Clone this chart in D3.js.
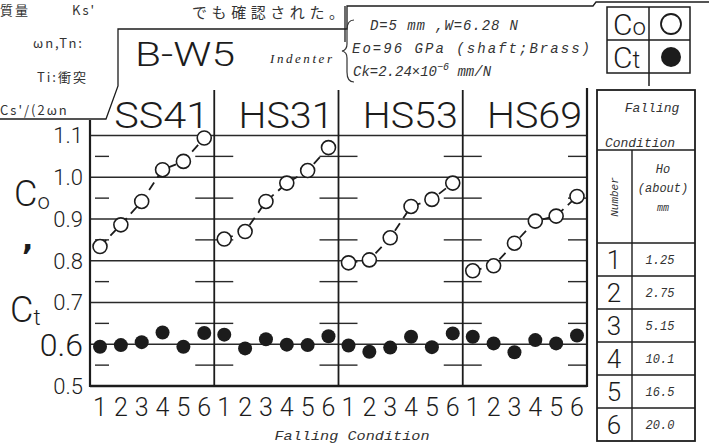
<!DOCTYPE html>
<html>
<head>
<meta charset="utf-8">
<script src="https://cdn.jsdelivr.net/npm/d3@7"></script>
<style>
  body { margin: 0; background: #fff; }
  svg { display: block; }
</style>
</head>
<body>
<div id="chart"></div>
<script>
// Data
const materials = ["SS41", "HS31", "HS53", "HS69"];
const conditions = [1, 2, 3, 4, 5, 6];
const coValues = [
  [0.834, 0.886, 0.942, 1.018, 1.038, 1.094],
  [0.852, 0.870, 0.942, 0.986, 1.016, 1.071],
  [0.795, 0.802, 0.855, 0.930, 0.947, 0.986],
  [0.776, 0.788, 0.842, 0.895, 0.907, 0.954]
];
const ctValues = [
  [0.594, 0.598, 0.605, 0.628, 0.594, 0.627],
  [0.623, 0.590, 0.612, 0.599, 0.598, 0.619],
  [0.597, 0.582, 0.592, 0.618, 0.593, 0.626],
  [0.618, 0.602, 0.581, 0.610, 0.602, 0.621]
];
const yTicks = [0.5, 0.6, 0.7, 0.8, 0.9, 1.0, 1.1];
const yHalfTicks = [0.55, 0.65, 0.75, 0.85, 0.95, 1.05];
const heightsHo = ["1.25", "2.75", "5.15", "10.1", "16.5", "20.0"];
const indenterLines = ["D=5 mm ,W=6.28 N", "Eo=96 GPa (shaft;Brass)", "Ck=2.24×10"];

const width = 709, height = 445;
const ink = "#1c1c1c";
const sans = "Roboto, 'DejaVu Sans', sans-serif";
const mono = "'Liberation Mono', 'DejaVu Sans Mono', monospace";
const jp = "'Noto Sans CJK JP', sans-serif";

const svg = d3.select("#chart").append("svg")
  .attr("width", width).attr("height", height)
  .attr("viewBox", `0 0 ${width} ${height}`);

// Scales
const x0 = 90, x1 = 587;
const panel = d3.scaleBand().domain(materials).range([x0, x1]).padding(0);
const xp = d3.scalePoint().domain(conditions).range([0, panel.bandwidth()]).padding(0.48);
const y = d3.scaleLinear().domain([0.5, 1.1]).range([386, 135.5]);

// Surrounding scanned text (top-left)
const leftText = [
  { t: "質量", x: 0, y: 15 }, { t: "Ks'", x: 72, y: 15 },
  { t: "ωn,Tn:", x: 33, y: 48 },
  { t: "Ti:衝突", x: 37, y: 82 },
  { t: "Cs'/(2ωn", x: 0, y: 115 }
];
svg.selectAll(".scan").data(leftText).enter().append("text")
  .attr("x", d => d.x).attr("y", d => d.y).text(d => d.t)
  .style("font-family", jp).style("font-size", "13px").style("fill", "#333")
  .style("letter-spacing", "2px");
svg.append("text").attr("x", 192).attr("y", 18).text("でも確認された。")
  .attr("textLength", 152).attr("lengthAdjust", "spacing")
  .style("font-family", jp).style("font-size", "15px").style("fill", "#333");

// Box outlines of the header
svg.append("path")
  .attr("d", "M0,119 L106,119 L118,86 L118,29 L347,29 L347,6 L593,6 L596,2 L709,2")
  .style("fill", "none").style("stroke", ink).style("stroke-width", 1.3);
svg.append("path").attr("d", "M345,6 L345,42")
  .style("fill", "none").style("stroke", ink).style("stroke-width", 1.3);

svg.append("text").attr("x", 135).attr("y", 66).text("B-W5")
  .attr("textLength", 100).attr("lengthAdjust", "spacingAndGlyphs")
  .style("font-family", sans).style("font-weight", 300).style("font-size", "34px").style("fill", ink);
svg.append("text").attr("x", 270).attr("y", 63).text("Indenter")
  .attr("textLength", 62).attr("lengthAdjust", "spacing")
  .style("font-family", "'Liberation Serif', serif").style("font-style", "italic")
  .style("font-size", "13px").style("fill", ink);

// Brace and indenter constants
svg.append("path")
  .attr("d", "M354,20 Q347,20 347,30 L347,44 Q347,50 342,51 Q347,52 347,58 L347,72 Q347,82 354,82")
  .style("fill", "none").style("stroke", "#333").style("stroke-width", 1.2);
const indX = [370, 352, 353], indY = [30, 53, 76], indW = [148, 238, null];
indenterLines.forEach((t, i) => {
  const tx = svg.append("text").attr("x", indX[i]).attr("y", indY[i])
    .style("font-family", mono).style("font-style", "italic")
    .style("font-size", "14px").style("fill", "#333");
  if (indW[i]) tx.attr("textLength", indW[i]).attr("lengthAdjust", "spacing");
  tx.append("tspan").text(t);
  if (i === 2) {
    tx.append("tspan").attr("dy", -6).style("font-size", "10px").text("−6");
    tx.append("tspan").attr("dy", 6).text(" mm/N");
  }
});

// Legend box
const lg = svg.append("g");
lg.append("rect").attr("x", 607).attr("y", 7).attr("width", 83).attr("height", 66)
  .style("fill", "none").style("stroke", ink).style("stroke-width", 1.5);
lg.append("line").attr("x1", 649).attr("x2", 649).attr("y1", 7).attr("y2", 86)
  .style("stroke", ink).style("stroke-width", 1.5);
lg.append("line").attr("x1", 607).attr("x2", 690).attr("y1", 40).attr("y2", 40)
  .style("stroke", ink).style("stroke-width", 1.5);
[["C", "o", 24], ["C", "t", 57]].forEach(([a, b, cy]) => {
  const t = lg.append("text").attr("x", 613).attr("y", cy + 11)
    .style("font-family", sans).style("font-weight", 300).style("fill", ink);
  t.append("tspan").style("font-size", "30px").text(a);
  t.append("tspan").style("font-size", "24px").text(b);
});
lg.append("circle").attr("cx", 671).attr("cy", 24).attr("r", 10)
  .style("fill", "#fff").style("stroke", ink).style("stroke-width", 1.8);
lg.append("circle").attr("cx", 671).attr("cy", 57).attr("r", 10).style("fill", ink);

// Gridlines
const plot = svg.append("g");
plot.selectAll(".grid").data(yTicks.slice(1)).enter().append("line")
  .attr("x1", x0).attr("x2", x1).attr("y1", d => y(d)).attr("y2", d => y(d))
  .style("stroke", "#2a2a2a").style("stroke-width", 1.5);

// Half-step ticks on both sides of each panel edge
const edges = materials.map(m => panel(m)).concat([x1]);
edges.forEach((ex, i) => {
  yHalfTicks.forEach(v => {
    if (i > 0) plot.append("line").attr("x1", ex - 19).attr("x2", ex).attr("y1", y(v)).attr("y2", y(v))
      .style("stroke", "#2a2a2a").style("stroke-width", 1.4);
    if (i < edges.length - 1) plot.append("line").attr("x1", ex + (i === 0 ? 5 : 0)).attr("x2", ex + 19)
      .attr("y1", y(v)).attr("y2", y(v)).style("stroke", "#2a2a2a").style("stroke-width", 1.4);
  });
});

// Panel dividers, axes
materials.slice(1).forEach(m => {
  plot.append("line").attr("x1", panel(m)).attr("x2", panel(m)).attr("y1", 90).attr("y2", 386)
    .style("stroke", ink).style("stroke-width", 1.8);
});
plot.append("line").attr("x1", x0).attr("x2", x0).attr("y1", 120).attr("y2", 387)
  .style("stroke", ink).style("stroke-width", 2.2);
plot.append("line").attr("x1", x1).attr("x2", x1).attr("y1", 88).attr("y2", 387)
  .style("stroke", ink).style("stroke-width", 2.2);
plot.append("line").attr("x1", x0).attr("x2", x1).attr("y1", 386).attr("y2", 386)
  .style("stroke", ink).style("stroke-width", 2.4);

// Panel titles
plot.selectAll(".ptitle").data(materials).enter().append("text")
  .attr("x", d => panel(d) + panel.bandwidth() - 5).attr("y", 128)
  .attr("text-anchor", "end").text(d => d)
  .attr("textLength", 95).attr("lengthAdjust", "spacingAndGlyphs")
  .style("font-family", sans).style("font-weight", 300).style("font-size", "36px").style("fill", ink);

// Y tick labels
plot.selectAll(".ylab").data(yTicks).enter().append("text")
  .attr("x", 83).attr("y", d => y(d)).attr("dy", "0.36em")
  .attr("text-anchor", "end").text(d => d.toFixed(1))
  .style("font-family", sans).style("font-weight", 300)
  .style("font-size", d => d === 0.6 ? "32px" : "22px").style("fill", ink);

// Y axis title "Co , Ct"
const yt = [["C", "o", 206, 14], ["C", "t", 322, 10]];
yt.forEach(([a, b, by, bx]) => {
  const t = plot.append("text").attr("x", bx).attr("y", by)
    .style("font-family", sans).style("font-weight", 300).style("fill", ink);
  t.append("tspan").style("font-size", "36px").text(a);
  t.append("tspan").attr("dy", 3).style("font-size", "22px").text(b);
});
plot.append("text").attr("x", 22).attr("y", 250).text(",")
  .style("font-family", "'DejaVu Sans', sans-serif").style("font-weight", "bold")
  .style("font-size", "30px").style("fill", ink);

// X tick labels
materials.forEach(m => {
  plot.selectAll(null).data(conditions).enter().append("text")
    .attr("x", d => panel(m) + xp(d)).attr("y", 416)
    .attr("text-anchor", "middle").text(d => d)
    .style("font-family", sans).style("font-weight", 300).style("font-size", "25px").style("fill", ink);
});
plot.append("text").attr("x", 352).attr("y", 440).attr("text-anchor", "middle")
  .text("Falling  Condition").attr("textLength", 155).attr("lengthAdjust", "spacingAndGlyphs")
  .style("font-family", mono).style("font-style", "italic").style("font-size", "13px").style("fill", "#333");

// Series
materials.forEach((m, mi) => {
  const g = plot.append("g");
  const pts = conditions.map((c, i) => ({ c, co: coValues[mi][i], ct: ctValues[mi][i] }));
  const line = d3.line().x(d => panel(m) + xp(d.c)).y(d => y(d.co));
  g.append("path").datum(pts).attr("d", line)
    .style("fill", "none").style("stroke", ink).style("stroke-width", 1.8)
    .style("stroke-dasharray", "9,6");
  g.selectAll(".co").data(pts).enter().append("circle")
    .attr("cx", d => panel(m) + xp(d.c)).attr("cy", d => y(d.co)).attr("r", 7)
    .style("fill", "#fff").style("stroke", ink).style("stroke-width", 1.6);
  g.selectAll(".ct").data(pts).enter().append("circle")
    .attr("cx", d => panel(m) + xp(d.c)).attr("cy", d => y(d.ct)).attr("r", 7)
    .style("fill", ink);
});

// Falling condition table
const tb = svg.append("g");
const tx0 = 597, tx1 = 695, tcol = 632, ttop = 90, thead = 150, trow0 = 243, rowH = 33;
const rowScale = d3.scaleBand().domain(conditions).range([trow0, trow0 + rowH * conditions.length]);
const tbBottom = trow0 + rowH * conditions.length;
tb.append("rect").attr("x", tx0).attr("y", ttop).attr("width", tx1 - tx0).attr("height", tbBottom - ttop)
  .style("fill", "none").style("stroke", ink).style("stroke-width", 1.8);
tb.append("line").attr("x1", tx0).attr("x2", tx1).attr("y1", thead).attr("y2", thead)
  .style("stroke", ink).style("stroke-width", 1.4);
tb.append("line").attr("x1", tcol).attr("x2", tcol).attr("y1", thead).attr("y2", tbBottom)
  .style("stroke", ink).style("stroke-width", 1.4);
tb.selectAll(".rl").data(conditions).enter().append("line")
  .attr("x1", tx0).attr("x2", tx1).attr("y1", d => rowScale(d)).attr("y2", d => rowScale(d))
  .style("stroke", ink).style("stroke-width", 1.4);
const tstyle = sel => sel.style("font-family", mono).style("font-style", "italic").style("fill", "#333");
tb.append("text").attr("x", 652).attr("y", 112).attr("text-anchor", "middle").text("Falling")
  .call(tstyle).style("font-size", "13px");
tb.append("text").attr("x", 640).attr("y", 147).attr("text-anchor", "middle").text("Condition")
  .call(tstyle).style("font-size", "13px");
tb.append("text").attr("transform", "translate(618,197) rotate(-90)").attr("text-anchor", "middle")
  .text("Number").call(tstyle).style("font-size", "11px");
[["Ho", 173], ["(about)", 192], ["mm", 211]].forEach(([t, ty]) => {
  tb.append("text").attr("x", 663).attr("y", ty).attr("text-anchor", "middle").text(t)
    .call(tstyle).style("font-size", t === "mm" ? "10px" : "12px");
});
tb.selectAll(".num").data(conditions).enter().append("text")
  .attr("x", 614).attr("y", d => rowScale(d) + rowH / 2).attr("dy", "0.36em")
  .attr("text-anchor", "middle").text(d => d)
  .style("font-family", sans).style("font-weight", 300).style("font-size", "26px").style("fill", ink);
tb.selectAll(".ho").data(heightsHo).enter().append("text")
  .attr("x", 660).attr("y", (d, i) => rowScale(conditions[i]) + rowH / 2).attr("dy", "0.36em")
  .attr("text-anchor", "middle").text(d => d)
  .call(tstyle).style("font-size", "12px");
</script>
</body>
</html>
